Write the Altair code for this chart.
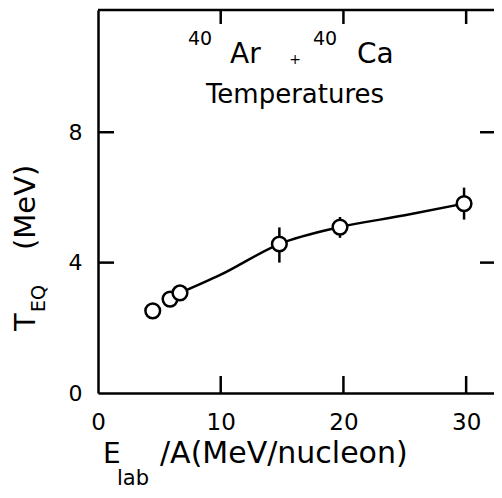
import altair as alt
import pandas as pd

# ---- data ----
energy = [4.46, 5.87, 6.68, 14.78, 19.72, 29.83]      # E_lab/A (MeV/nucleon)
temp = [2.52, 2.88, 3.07, 4.57, 5.09, 5.81]           # T_EQ (MeV)

err_energy = [14.78, 19.72, 29.83]
err_low = [4.00, 4.76, 5.32]
err_high = [5.08, 5.40, 6.30]

curve_energy = [6.68, 10.0, 14.78, 19.72, 25.0, 29.83]
curve_temp = [3.07, 3.63, 4.57, 5.09, 5.45, 5.81]

x_ticks = [0, 10, 20, 30]
y_ticks = [0, 4, 8]
x_inner_ticks = [10, 20, 30]
y_inner_ticks = [4, 8]

W, H = 396, 383
FONT = "DejaVu Sans"
LW = 2.5

xs = alt.Scale(domain=[0, 32.27], nice=False, zero=False)
ys = alt.Scale(domain=[0, 11.75], nice=False, zero=False)

x_axis = alt.Axis(values=x_ticks, ticks=False, grid=False, title=None,
                  domainColor="black", domainWidth=LW, labelFont=FONT,
                  labelFontSize=23, labelColor="black", labelPadding=18,
                  labelFlush=False)
y_axis = alt.Axis(values=y_ticks, ticks=False, grid=False, title=None,
                  domainColor="black", domainWidth=LW, labelFont=FONT,
                  labelFontSize=22, labelColor="black", labelPadding=16,
                  labelFlush=False)

pts = pd.DataFrame({"E": energy, "T": temp})
errs = pd.DataFrame({"E": err_energy, "lo": err_low, "hi": err_high})
curve = pd.DataFrame({"E": curve_energy, "T": curve_temp})
xt = pd.DataFrame({"E": x_inner_ticks})
yt = pd.DataFrame({"T": y_inner_ticks})

X = lambda f="E": alt.X(f"{f}:Q", scale=xs, axis=x_axis)
Y = lambda f="T": alt.Y(f"{f}:Q", scale=ys, axis=y_axis)

line = alt.Chart(curve).mark_line(color="black", strokeWidth=LW,
                                  interpolate="monotone").encode(x=X(), y=Y())

ebars = alt.Chart(errs).mark_rule(color="black", strokeWidth=LW).encode(
    x=X(), y=Y("lo"), y2="hi:Q")

circles = alt.Chart(pts).mark_point(shape="circle", size=215, fill="white",
                                    fillOpacity=1, opacity=1, stroke="black",
                                    strokeWidth=LW).encode(x=X(), y=Y())

top_frame = alt.Chart(pd.DataFrame({"a": [0]})).mark_rule(
    color="black", strokeWidth=LW).encode(
    x=alt.value(0), x2=alt.value(W), y=alt.value(0))

bt = alt.Chart(xt).mark_rule(color="black", strokeWidth=LW).encode(
    x=X(), y=alt.value(H), y2=alt.value(H - 17))
tt = alt.Chart(xt).mark_rule(color="black", strokeWidth=LW).encode(
    x=X(), y=alt.value(0), y2=alt.value(14))
lt = alt.Chart(yt).mark_rule(color="black", strokeWidth=LW).encode(
    y=Y(), x=alt.value(0), x2=alt.value(16))
rt = alt.Chart(yt).mark_rule(color="black", strokeWidth=LW).encode(
    y=Y(), x=alt.value(W - 14), x2=alt.value(W))


def txt(s, x, y, size, angle=0, align="left", baseline="alphabetic"):
    return alt.Chart(pd.DataFrame({"t": [s]})).mark_text(
        font=FONT, fontSize=size, color="black", align=align,
        baseline=baseline, angle=angle).encode(
        text="t:N", x=alt.value(x), y=alt.value(y))


texts = [
    # inset title: 40Ar + 40Ca
    txt("40", 90, 35, 19),
    txt("Ar", 132, 53, 28),
    txt("+", 197, 54, 14, align="center"),
    txt("40", 215, 35, 19),
    txt("Ca", 259, 53, 28),
    txt("Temperatures", 197, 93, 26, align="center"),
    # x-axis title: E_lab/A(MeV/nucleon)
    txt("E", 5, 453, 28),
    txt("lab", 19, 475, 21),
    txt("/A(MeV/nucleon)", 62, 453, 30),
    # y-axis title: T_EQ (MeV)
    txt("T", -63, 321, 29, angle=270),
    txt("EQ", -53, 302, 19, angle=270),
    txt("(MeV)", -63, 240, 29, angle=270),
]

chart = alt.layer(line, ebars, circles, top_frame, bt, tt, lt, rt, *texts).properties(
    width=W, height=H,
    autosize=alt.AutoSizeParams(type="none"),
    padding={"left": 90, "top": 2, "right": 0, "bottom": 97},
).configure_view(stroke=None).configure(background="white")

chart.save("out.html", embed_options={"renderer": "svg", "actions": False})
